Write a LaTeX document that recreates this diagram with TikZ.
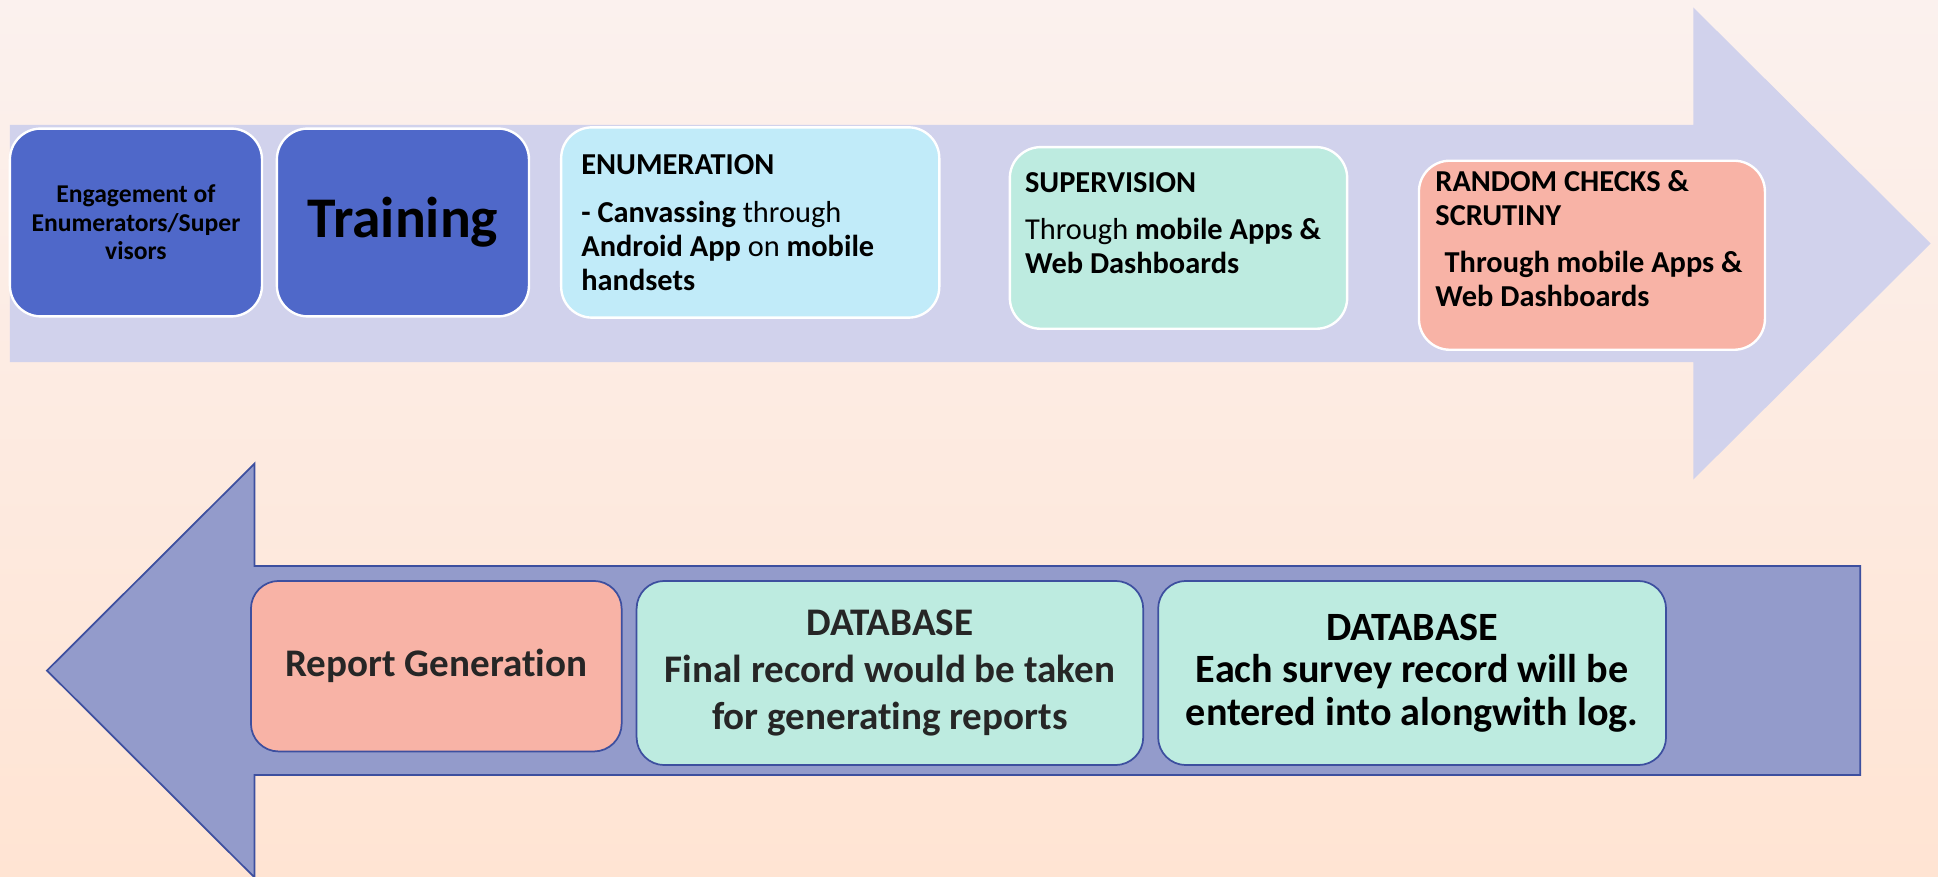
\documentclass[tikz,border=0pt]{standalone}
\usepackage{fontspec}
\setmainfont{Carlito}[Ligatures=NoCommon]
\usepackage{tikz}

\definecolor{bgtop}{HTML}{FBF1EE}
\definecolor{bgbot}{HTML}{FFE4D3}
\definecolor{upband}{HTML}{D1D2EC}
\definecolor{lowband}{HTML}{939BCB}
\definecolor{arrowline}{HTML}{3D4F9F}
\definecolor{bluebox}{HTML}{4F68C9}
\definecolor{cyanbox}{HTML}{C1EBF9}
\definecolor{mintbox}{HTML}{BDEBE0}
\definecolor{salmonbox}{HTML}{F8B3A6}
\definecolor{darktxt}{HTML}{262626}

\begin{document}
\begin{tikzpicture}[x=0.02cm,y=-0.02cm,
		upbox/.style={shape=rectangle, rounded corners=0.5cm, draw=white, line width=1.1pt},
		lowbox/.style={shape=rectangle, rounded corners=0.45cm, draw=arrowline, line width=0.8pt, text=darktxt, align=center, font=\fontsize{18}{21.6}\selectfont\bfseries},
		boxtext/.style={anchor=north west, inner sep=0pt, align=left, font=\fontsize{14}{15.6}\selectfont}]
				\useasboundingbox (0,0) rectangle (1568,709.5);
				\shade[top color=bgtop, bottom color=bgbot] (0,0) rectangle (1568,709.5);
				% arrows
				\fill[upband] (8,101) -- (1370,101) -- (1370,6) -- (1562,197) -- (1370,388) -- (1370,293) -- (8,293) -- cycle;
				\filldraw[fill=lowband, draw=arrowline, line width=0.8pt] (1505,458) -- (206,458) -- (206,375) -- (38,542.5) -- (206,710) -- (206,627) -- (1505,627) -- cycle;
				% upper steps
				\node[upbox, fill=bluebox, minimum width=4.08cm, minimum height=3.04cm, align=center, font=\fontsize{11.8}{13.1}\selectfont\bfseries] (eng) at (110,180) {Engagement of\\Enumerators/Super\\visors};
				\node[upbox, fill=bluebox, minimum width=4.08cm, minimum height=3.04cm, font=\fontsize{26.5}{30}\selectfont\bfseries] (trn) at (326,180) {Training};
				\node[upbox, fill=cyanbox, minimum width=6.12cm, minimum height=3.08cm] (enu) at (607,180) {};
				\node[boxtext] (enut) at (470,125) {\textbf{ENUMERATION}\\[6.3pt]\textbf{- Canvassing} through\\\textbf{Android App} on \textbf{mobile}\\\textbf{handsets}};
				\node[upbox, fill=mintbox, minimum width=5.46cm, minimum height=2.94cm] (sup) at (953.5,192.5) {};
				\node[boxtext] (supt) at (829,139) {\textbf{SUPERVISION}\\[6.3pt]Through \textbf{mobile Apps \&}\\\textbf{Web Dashboards}};
				\node[upbox, fill=salmonbox, minimum width=5.6cm, minimum height=3.06cm] (rnd) at (1288,206.5) {};
				\node[boxtext, font=\fontsize{14}{15.6}\selectfont\bfseries] (rndt) at (1161,137.5) {RANDOM CHECKS \&\\SCRUTINY\\[6.3pt]\hspace*{0.15cm}Through mobile Apps \&\\Web Dashboards};
				% lower steps
				\node[lowbox, fill=salmonbox, minimum width=6cm, minimum height=2.76cm] (rep) at (353,539) {Report Generation};
				\node[lowbox, fill=mintbox, minimum width=8.2cm, minimum height=2.98cm] (dbf) at (720,544.5) {DATABASE\\Final record would be taken\\for generating reports};
				\node[lowbox, fill=mintbox, minimum width=8.22cm, minimum height=2.98cm, text=black, font=\fontsize{18.5}{19.5}\selectfont\bfseries] (dbe) at (1142.5,544.5) {DATABASE\\Each survey record will be\\entered into alongwith log.};
			\end{tikzpicture}
\end{document}
